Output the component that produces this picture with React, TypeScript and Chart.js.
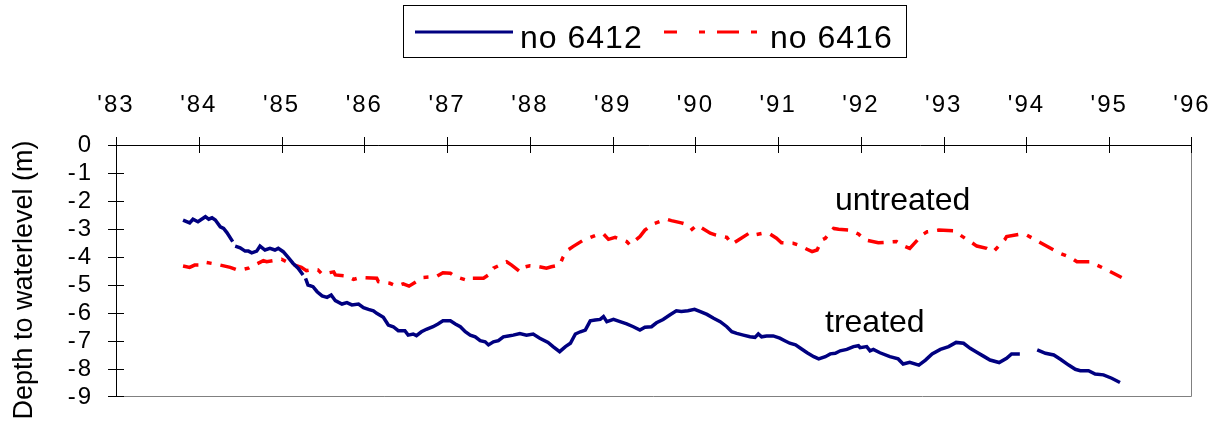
import React, { useEffect, useRef } from "react";
import { Chart, registerables } from "chart.js";

Chart.register(...registerables);

const FONT = "'Liberation Sans', Arial, sans-serif";

const yearTicks = [83, 84, 85, 86, 87, 88, 89, 90, 91, 92, 93, 94, 95, 96];
const depthTicks = [0, -1, -2, -3, -4, -5, -6, -7, -8, -9];
const seriesNames = ["no 6412", "no 6416"];
const annotationLabels = ["untreated", "treated"];
const yTitle = "Depth to waterlevel (m)";

// no 6412 (treated) — null marks a break in the record
const blueYears = [
  83.81, 83.89, 83.93, 83.99, 84.08, 84.12, 84.16, 84.2, 84.26, 84.3, 84.34, 84.41, 84.43,
  84.44, 84.5, 84.56, 84.6, 84.64, 84.7, 84.74, 84.8, 84.86, 84.92, 84.96, 85.02, 85.08,
  85.14, 85.2, 85.26, 85.27, 85.29, 85.32, 85.38, 85.43, 85.49, 85.55, 85.6, 85.65, 85.73,
  85.79, 85.85, 85.93, 85.99, 86.05, 86.11, 86.15, 86.23, 86.29, 86.35, 86.41, 86.49, 86.53,
  86.59, 86.63, 86.69, 86.75, 86.83, 86.89, 86.95, 87.04, 87.1, 87.16, 87.22, 87.28, 87.34,
  87.4, 87.46, 87.5, 87.56, 87.62, 87.68, 87.74, 87.8, 87.88, 87.96, 88.04, 88.12, 88.22,
  88.28, 88.36, 88.43, 88.49, 88.55, 88.61, 88.67, 88.73, 88.79, 88.85, 88.89, 88.93, 89.01,
  89.09, 89.17, 89.25, 89.33, 89.39, 89.47, 89.53, 89.61, 89.69, 89.77, 89.83, 89.91, 89.99,
  90.06, 90.14, 90.22, 90.3, 90.38, 90.44, 90.5, 90.58, 90.66, 90.72, 90.76, 90.8, 90.86,
  90.94, 91.02, 91.08, 91.14, 91.21, 91.27, 91.35, 91.43, 91.49, 91.57, 91.63, 91.69, 91.75,
  91.83, 91.91, 91.97, 91.99, 92.07, 92.11, 92.15, 92.23, 92.35, 92.45, 92.51, 92.59, 92.7,
  92.78, 92.86, 92.96, 93.06, 93.15, 93.24, 93.32, 93.4, 93.48, 93.56, 93.67, 93.76, 93.82,
  93.92, 94.0, 94.13, 94.23, 94.33, 94.41, 94.51, 94.59, 94.65, 94.75, 94.83, 94.93, 95.03,
  95.13,
];
const blueDepth = [
  -2.68, -2.78, -2.65, -2.74, -2.56, -2.65, -2.6, -2.68, -2.92, -2.98, -3.13, -3.45, null,
  -3.61, -3.67, -3.79, -3.79, -3.85, -3.79, -3.61, -3.75, -3.69, -3.75, -3.69, -3.81, -4.01,
  -4.23, -4.4, -4.64, null, -4.76, -5.0, -5.06, -5.24, -5.39, -5.44, -5.36, -5.56, -5.68,
  -5.63, -5.71, -5.68, -5.81, -5.87, -5.92, -6.01, -6.15, -6.43, -6.49, -6.63, -6.63, -6.79,
  -6.75, -6.81, -6.67, -6.58, -6.49, -6.39, -6.28, -6.28, -6.39, -6.49, -6.67, -6.79, -6.85,
  -6.99, -7.03, -7.14, -7.03, -6.99, -6.85, -6.82, -6.79, -6.73, -6.79, -6.75, -6.9, -7.05,
  -7.2, -7.38, -7.2, -7.08, -6.75, -6.67, -6.61, -6.28, -6.25, -6.23, -6.13, -6.31, -6.23,
  -6.31, -6.39, -6.49, -6.61, -6.51, -6.49, -6.35, -6.23, -6.07, -5.92, -5.95, -5.92, -5.87,
  -5.95, -6.05, -6.19, -6.31, -6.49, -6.67, -6.73, -6.79, -6.85, -6.87, -6.75, -6.85, -6.82,
  -6.82, -6.9, -6.99, -7.08, -7.14, -7.26, -7.42, -7.56, -7.64, -7.56, -7.46, -7.44, -7.35,
  -7.3, -7.2, -7.17, -7.24, -7.2, -7.35, -7.3, -7.42, -7.56, -7.64, -7.82, -7.76, -7.86,
  -7.68, -7.46, -7.3, -7.2, -7.05, -7.08, -7.26, -7.4, -7.54, -7.68, -7.77, -7.62, -7.46,
  -7.46, null, -7.32, -7.44, -7.5, -7.65, -7.86, -8.01, -8.06, -8.06, -8.18, -8.21, -8.33,
  -8.48,
];

// no 6416 (untreated)
const redYears = [
  83.81, 83.89, 83.95, 84.02, 84.08, 84.2, 84.38, 84.46, 84.54, 84.6, 84.65, 84.78, 84.82,
  85.0, 85.08, 85.16, 85.24, 85.3, 85.38, 85.44, 85.49, 85.63, 85.65, 85.79, 85.87, 85.95,
  86.15, 86.17, 86.31, 86.39, 86.47, 86.54, 86.67, 86.71, 86.87, 86.95, 87.04, 87.1, 87.26,
  87.3, 87.44, 87.5, 87.56, 87.72, 87.78, 87.88, 87.92, 88.0, 88.06, 88.2, 88.26, 88.36,
  88.4, 88.46, 88.52, 88.65, 88.71, 88.81, 88.89, 88.95, 89.03, 89.17, 89.21, 89.33, 89.39,
  89.49, 89.65, 89.71, 89.83, 89.92, 89.96, 90.02, 90.18, 90.24, 90.38, 90.44, 90.52, 90.66,
  90.72, 90.82, 90.9, 90.98, 91.04, 91.18, 91.24, 91.41, 91.47, 91.53, 91.57, 91.67, 91.73,
  91.87, 91.97, 92.05, 92.21, 92.43, 92.49, 92.59, 92.74, 92.8, 92.94, 93.12, 93.18, 93.32,
  93.4, 93.52, 93.6, 93.74, 93.76, 93.94, 94.0, 94.17, 94.33, 94.39, 94.53, 94.61, 94.77,
  94.93, 94.97, 95.15,
];
const redDepth = [
  -4.32, -4.37, -4.29, -4.29, -4.19, -4.25, -4.37, -4.46, -4.44, -4.4, -4.32, -4.13, -4.17,
  -4.08, -4.2, -4.29, -4.37, -4.49, -4.44, -4.46, -4.61, -4.53, -4.64, -4.68, -4.8, -4.73,
  -4.76, -4.88, -4.94, -5.04, -4.96, -5.04, -4.8, -4.73, -4.7, -4.56, -4.58, -4.7, -4.85,
  -4.76, -4.76, -4.64, -4.4, -4.17, -4.29, -4.52, -4.37, -4.31, -4.32, -4.4, -4.35, -4.29,
  -4.01, -3.75, -3.63, -3.39, -3.33, -3.21, -3.18, -3.37, -3.3, -3.45, -3.57, -3.27, -3.04,
  -2.82, -2.65, -2.7, -2.78, -2.86, -3.01, -2.86, -3.15, -3.21, -3.3, -3.54, -3.39, -3.13,
  -3.21, -3.15, -3.18, -3.33, -3.49, -3.51, -3.57, -3.81, -3.75, -3.39, -3.33, -2.98, -3.01,
  -3.04, -3.18, -3.39, -3.49, -3.45, -3.57, -3.69, -3.21, -3.1, -3.04, -3.06, -3.18, -3.45,
  -3.61, -3.69, -3.81, -3.37, -3.27, -3.18, -3.21, -3.49, -3.75, -3.85, -4.01, -4.17, -4.17,
  -4.4, -4.46, -4.73,
];

const BLUE = "#000080";
const RED = "#FF0000";
const RED_DASH = [16, 9, 5, 9];

const decorPlugin = {
  id: "decor",
  beforeDraw(chart: any) {
    (chart.ctx as any).letterSpacing = "2px";
  },
  beforeDatasetsDraw(chart: any) {
    (chart.ctx as any).letterSpacing = "0px";
  },
  afterDraw(chart: any) {
    const ctx = chart.ctx as CanvasRenderingContext2D;
    const { left, right, top, bottom } = chart.chartArea;
    const xs = chart.scales.x;
    const ys = chart.scales.y;
    ctx.save();

    // plot border (right and bottom)
    ctx.strokeStyle = "#808080";
    ctx.lineWidth = 1;
    ctx.beginPath();
    const rx = Math.round(right) - 0.5;
    const by = Math.round(bottom) - 0.5;
    ctx.moveTo(rx, top);
    ctx.lineTo(rx, by);
    ctx.lineTo(left, by);
    ctx.stroke();

    // axes
    ctx.strokeStyle = "#000000";
    ctx.beginPath();
    const x0 = Math.round(left) + 0.5;
    const y0 = Math.round(top) + 0.5;
    ctx.moveTo(x0, top - 8);
    ctx.lineTo(x0, by);
    ctx.moveTo(left - 8, y0);
    ctx.lineTo(rx, y0);
    yearTicks.forEach((v) => {
      const px = Math.min(Math.round(xs.getPixelForValue(v)) + 0.5, rx);
      ctx.moveTo(px, top - 8);
      ctx.lineTo(px, top + 8);
    });
    depthTicks.forEach((v) => {
      const py = Math.min(Math.round(ys.getPixelForValue(v)) + 0.5, by);
      ctx.moveTo(left - 8, py);
      ctx.lineTo(left + 8, py);
    });
    ctx.stroke();

    // legend
    ctx.strokeStyle = "#000000";
    ctx.lineWidth = 1;
    ctx.strokeRect(403.5, 5.5, 503, 52);
    ctx.lineWidth = 3;
    ctx.strokeStyle = BLUE;
    ctx.beginPath();
    ctx.moveTo(415, 32);
    ctx.lineTo(513, 32);
    ctx.stroke();
    ctx.strokeStyle = RED;
    ctx.setLineDash([13, 22, 6, 12, 22, 12, 6, 20]);
    ctx.beginPath();
    ctx.moveTo(664, 32);
    ctx.lineTo(757, 32);
    ctx.stroke();
    ctx.setLineDash([]);
    ctx.fillStyle = "#000000";
    (ctx as any).letterSpacing = "1px";
    ctx.font = `32px ${FONT}`;
    ctx.textAlign = "left";
    ctx.textBaseline = "alphabetic";
    ctx.fillText(seriesNames[0], 520, 48);
    ctx.fillText(seriesNames[1], 770, 48);

    // annotations
    (ctx as any).letterSpacing = "0px";
    ctx.fillText(annotationLabels[0], 835, 210);
    ctx.fillText(annotationLabels[1], 825, 332);

    // y title
    ctx.font = `27px ${FONT}`;
    ctx.translate(32, 280);
    ctx.rotate(-Math.PI / 2);
    ctx.textAlign = "center";
    ctx.fillText(yTitle, 0, 0);
    ctx.restore();
  },
};

export default function App() {
  const canvasRef = useRef<HTMLCanvasElement | null>(null);

  useEffect(() => {
    if (!canvasRef.current) return;
    const blueData = blueYears.map((x, i) => ({ x, y: blueDepth[i] }));
    const redData = redYears.map((x, i) => ({ x, y: redDepth[i] }));
    const chart = new Chart(canvasRef.current, {
      type: "line",
      data: {
        datasets: [
          {
            label: seriesNames[0],
            data: blueData as any,
            borderColor: BLUE,
            borderWidth: 3.5,
            pointRadius: 0,
            tension: 0,
            spanGaps: false,
            fill: false,
          },
          {
            label: seriesNames[1],
            data: redData as any,
            borderColor: RED,
            borderWidth: 3.5,
            borderDash: RED_DASH,
            pointRadius: 0,
            tension: 0,
            spanGaps: false,
            fill: false,
          },
        ],
      },
      options: {
        responsive: false,
        maintainAspectRatio: false,
        animation: false,
        layout: { padding: { left: 0, top: 0, right: 26, bottom: 26 } },
        plugins: {
          legend: { display: false },
          tooltip: { enabled: false },
        },
        scales: {
          x: {
            type: "linear",
            position: "top",
            min: 83,
            max: 96,
            grid: { display: false, drawTicks: false },
            border: { display: false },
            afterFit: (s: any) => {
              s.height = 145;
              s.paddingLeft = 0;
              s.paddingRight = 0;
            },
            ticks: {
              stepSize: 1,
              autoSkip: false,
              maxRotation: 0,
              padding: 25,
              color: "#000000",
              font: { family: FONT, size: 24 },
              callback: (v: any) => "'" + String(v),
            },
          },
          y: {
            type: "linear",
            position: "left",
            min: -9,
            max: 0,
            grid: { display: false, drawTicks: false },
            border: { display: false },
            afterFit: (s: any) => {
              s.width = 116;
              s.paddingTop = 0;
              s.paddingBottom = 0;
            },
            ticks: {
              stepSize: 1,
              autoSkip: false,
              padding: 23,
              color: "#000000",
              font: { family: FONT, size: 24 },
              callback: (v: any) => String(v),
            },
          },
        },
      },
      plugins: [decorPlugin],
    });
    return () => chart.destroy();
  }, []);

  return (
    <div style={{ position: "absolute", left: 0, top: 0, width: 1218, height: 423, background: "#ffffff" }}>
      <canvas ref={canvasRef} width={1218} height={423} style={{ display: "block" }} />
    </div>
  );
}
